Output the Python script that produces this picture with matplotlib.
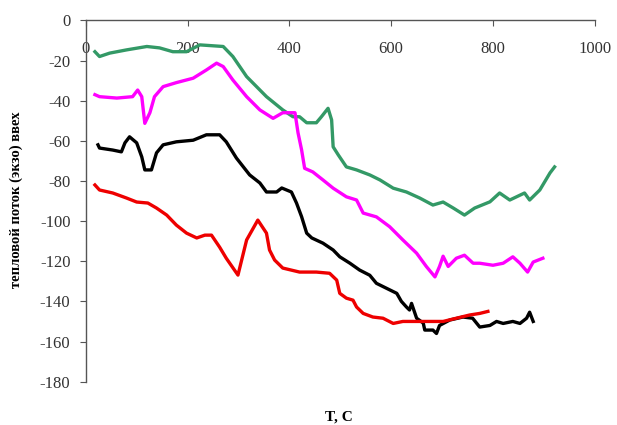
import matplotlib
matplotlib.use('Agg')
import matplotlib.pyplot as plt

plt.rcParams['font.family'] = ['Liberation Serif', 'DejaVu Serif']
plt.rcParams['axes.unicode_minus'] = False

# зелёная кривая
t_green = [18, 27, 47, 80, 120, 145, 171, 198, 224, 270, 289, 316, 355, 387, 407,
           420, 434, 453, 463, 476, 483, 486, 496, 512, 532, 558, 578, 604, 630,
           656, 682, 702, 722, 744, 764, 794, 813, 833, 862, 872, 892, 912, 921]
q_green = [-15.6, -18, -16.3, -14.7, -13, -13.7, -15.6, -15.6, -12.2, -13, -18, -28,
           -38, -44.6, -48, -48, -51, -51, -48, -43.8, -49.6, -63, -67, -73, -74.5,
           -77, -79.5, -83.6, -85.5, -88.5, -92, -90.5, -93.5, -97, -93.5, -90.4,
           -86, -89.5, -86, -89.5, -84.5, -76, -73]

# розовая кривая
t_pink = [18, 27, 61, 92, 102, 110, 116, 126, 135, 152, 178, 211, 237, 257, 270,
          289, 316, 342, 368, 387, 411, 417, 424, 430, 446, 466, 486, 512, 532,
          545, 571, 597, 623, 650, 669, 686, 695, 702, 712, 728, 744, 761, 774,
          800, 820, 839, 853, 868, 879, 898]
q_pink = [-37, -38, -38.7, -38, -34.7, -38, -51.3, -46, -38, -33, -31, -28.8, -24.7,
          -21.3, -23, -29.7, -38, -44.6, -48.8, -46, -46, -56, -64.5, -73.7, -75.5,
          -79.5, -83.6, -87.9, -89.5, -96, -97.9, -102.8, -109.4, -116, -122.6,
          -127.8, -122.6, -117.5, -122.6, -118.5, -117, -121, -121, -122, -121,
          -117.8, -121, -125.4, -120.4, -118.5]

# чёрная кривая
t_black = [24, 27, 53, 70, 77, 86, 100, 110, 116, 129, 139, 152, 178, 211, 237,
           263, 276, 296, 322, 342, 355, 375, 385, 404, 414, 424, 434, 444, 466,
           486, 499, 519, 538, 558, 571, 591, 611, 620, 630, 636, 640, 650, 663,
           666, 682, 689, 695, 715, 741, 760, 774, 794, 807, 820, 839, 853, 866,
           872, 879]
q_black = [-62, -63.6, -64.6, -65.5, -61, -58, -61, -68, -74.5, -74.5, -66, -62,
           -60.5, -59.7, -57, -57, -60.5, -68.6, -77, -81, -85.5, -85.5, -83.5,
           -85.5, -91, -97.8, -106, -108.4, -111, -114.4, -117.8, -121, -124.4,
           -127, -131, -133.5, -136, -140, -142.8, -144.3, -141, -148.4, -150.8,
           -154.3, -154.3, -156, -152, -149.3, -147.8, -148.4, -152.8, -152, -150,
           -151, -150, -151, -148.4, -145.4, -150]

# красная кривая
t_red = [18, 27, 53, 80, 100, 122, 139, 159, 178, 198, 218, 234, 247, 263, 276,
         299, 316, 338, 355, 361, 371, 387, 420, 453, 479, 493, 499, 512, 525,
         532, 545, 564, 584, 604, 623, 650, 676, 702, 728, 754, 774, 790]
q_red = [-82, -84.5, -86, -88.5, -90.5, -91, -93.5, -97, -102, -106, -108.4, -107,
         -107, -113, -118.5, -126.9, -109.4, -99.5, -106, -114.4, -119.4, -123.4,
         -125.4, -125.4, -126, -129.4, -136, -138.4, -139.4, -142.8, -146, -147.8,
         -148.4, -151, -150, -150, -150, -150, -148.4, -146.8, -146, -145]

fig = plt.figure(figsize=(6.17, 4.25), dpi=100)
ax = fig.add_axes([0.139, 0.102, 0.825, 0.850])

ax.plot(t_green, q_green, color='#339966', lw=2.4)
ax.plot(t_pink, q_pink, color='#ff00ff', lw=2.4)
ax.plot(t_black, q_black, color='black', lw=2.4)
ax.plot(t_red, q_red, color='#ee0000', lw=2.4)

ax.set_xlim(0, 1000)
ax.set_ylim(-180, 0)
ax.set_xticks(range(0, 1001, 200))
ax.set_yticks(range(-180, 1, 20))

ax.spines['bottom'].set_position(('data', 0))
ax.spines['top'].set_visible(False)
ax.spines['right'].set_visible(False)
for s in ('bottom', 'left'):
    ax.spines[s].set_color('#555555')
    ax.spines[s].set_linewidth(1.0)

ax.tick_params(axis='x', direction='out', length=4, pad=11, labelsize=12,
               colors='#555555', labelcolor='#333333')
ax.tick_params(axis='y', direction='out', length=4, pad=7, labelsize=12,
               colors='#555555', labelcolor='#333333')

fig.text(0.55, 0.01, 'T, C', fontsize=11, fontweight='bold', ha='center')
fig.text(0.026, 0.53, 'тепловой поток (экзо) ввех', fontsize=10.5,
         fontweight='bold', rotation=90, ha='center', va='center')

fig.savefig('out.png', dpi=100)
